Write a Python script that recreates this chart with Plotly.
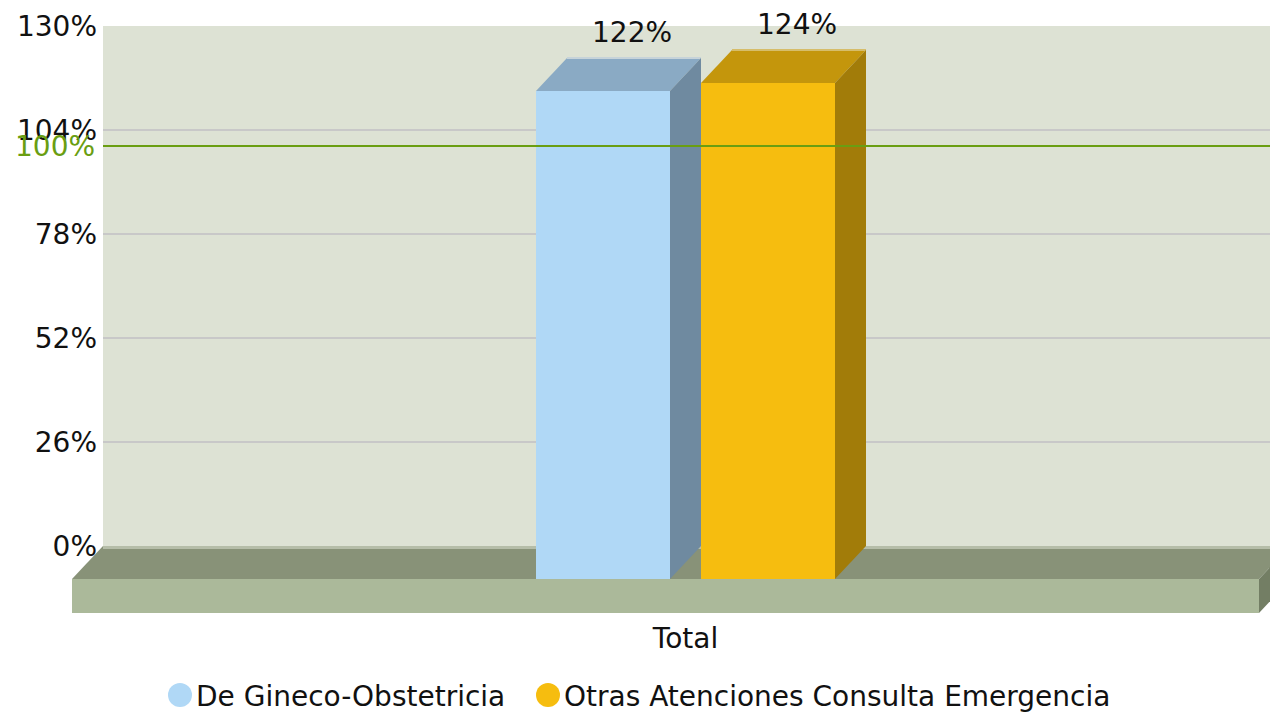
import plotly.graph_objects as go

# ---------------- data ----------------
CATEGORIES = ["Total"]
SERIES_NAMES = ["De Gineco-Obstetricia", "Otras Atenciones Consulta Emergencia"]
SERIES_VALUES = [122, 124]  # percent
Y_TICKS = [0, 26, 52, 78, 104, 130]
TREND_VALUE = 100
TREND_LABEL = "100%"

# ---------------- styles ----------------
FRONT_COLORS = ["#B0D8F6", "#F6BD0F"]
TOP_COLORS = ["#8AAAC4", "#C4960C"]
SIDE_COLORS = ["#6F8AA0", "#A27C09"]
TOP_EDGE_COLORS = ["#C6D3D9", "#D6BD6A"]
WALL_COLOR = "#DDE2D4"
GRID_COLOR = "#C8C8C8"
FLOOR_TOP = "#889278"
FLOOR_FRONT = "#ABB99A"
FLOOR_SIDE = "#737E64"
FLOOR_EDGE = "#B5BDA8"
TREND_COLOR = "#6A9E12"
FONT = "DejaVu Sans"
FONT_SIZE = 28
TEXT_COLOR = "#111111"

PAGE_W, PAGE_H = 1278, 712
OFFSET = 8                 # body margin of the html page
W, H = PAGE_W - OFFSET, PAGE_H - OFFSET
PX_PER_UNIT = 4.0          # vertical pixels per percent
DEPTH_X = 31               # 3D depth offset (x units = page px)
DEPTH_Y = 33 / PX_PER_UNIT # 3D depth offset (percent units)
FLOOR_T = 34 / PX_PER_UNIT
ZERO_PX = 546              # page y of the 0% line on the back wall
WALL_X0 = 103
WALL_X1 = 1290
FLOOR_FRONT_X1 = WALL_X1 - DEPTH_X
GROUP_CENTER = 685.5
BAR_W = 134
BAR_GAP = 31
PLOT_BOTTOM_PX = 614       # page y of plot-area bottom
PLOT_H = PLOT_BOTTOM_PX - OFFSET
Y_MAX = (ZERO_PX - OFFSET) / PX_PER_UNIT
Y_MIN = Y_MAX - PLOT_H / PX_PER_UNIT

LEGEND_MARKER_X = [180, 548]   # page px of legend markers
LEGEND_Y = 696                 # page px of legend row centre
LEGEND_MARKER_D = 24


def paper_x(px):
    return (px - OFFSET) / W


def paper_y(py):
    return (PLOT_BOTTOM_PX - py) / PLOT_H


n = len(SERIES_VALUES)
offsets = [(i - (n - 1) / 2) * (BAR_W + BAR_GAP) for i in range(n)]
centers = [GROUP_CENTER + o for o in offsets]

fig = go.Figure()

# front faces as bars
for i, (name, v) in enumerate(zip(SERIES_NAMES, SERIES_VALUES)):
    fig.add_trace(go.Bar(
        x=[centers[i]], y=[v], base=[-DEPTH_Y], width=[BAR_W],
        marker=dict(color=FRONT_COLORS[i], line=dict(width=0)),
        showlegend=False, hoverinfo="skip", name=name))

# top and side faces
for i, v in enumerate(SERIES_VALUES):
    xl = centers[i] - BAR_W / 2
    xr = centers[i] + BAR_W / 2
    top_y = v - DEPTH_Y
    fig.add_trace(go.Scatter(
        x=[xl, xr, xr + DEPTH_X, xl + DEPTH_X, xl],
        y=[top_y, top_y, v, v, top_y],
        fill="toself", fillcolor=TOP_COLORS[i], mode="lines",
        line=dict(width=0, color=TOP_COLORS[i]),
        showlegend=False, hoverinfo="skip"))
    fig.add_trace(go.Scatter(
        x=[xl + DEPTH_X, xr + DEPTH_X], y=[v, v], mode="lines",
        line=dict(width=2, color=TOP_EDGE_COLORS[i]),
        showlegend=False, hoverinfo="skip"))
    fig.add_trace(go.Scatter(
        x=[xr, xr + DEPTH_X, xr + DEPTH_X, xr, xr],
        y=[top_y, v, 0, -DEPTH_Y, top_y],
        fill="toself", fillcolor=SIDE_COLORS[i], mode="lines",
        line=dict(width=0, color=SIDE_COLORS[i]),
        showlegend=False, hoverinfo="skip"))

shapes = []
# back wall
shapes.append(dict(type="rect", xref="x", yref="y", x0=WALL_X0, x1=WALL_X1,
                   y0=0, y1=Y_TICKS[-1], fillcolor=WALL_COLOR,
                   line=dict(width=0), layer="below"))
# grid lines
for t in Y_TICKS[1:-1]:
    shapes.append(dict(type="line", xref="x", yref="y", x0=WALL_X0, x1=WALL_X1,
                       y0=t, y1=t, line=dict(color=GRID_COLOR, width=2),
                       layer="below"))
# floor top
shapes.append(dict(type="path", xref="x", yref="y", layer="below",
                   path=f"M {WALL_X0 - DEPTH_X},{-DEPTH_Y} L {FLOOR_FRONT_X1},{-DEPTH_Y} "
                        f"L {WALL_X1},0 L {WALL_X0},0 Z",
                   fillcolor=FLOOR_TOP, line=dict(width=0)))
# floor back edge strip
shapes.append(dict(type="line", xref="x", yref="y", x0=WALL_X0, x1=WALL_X1,
                   y0=-0.35, y1=-0.35, line=dict(color=FLOOR_EDGE, width=3),
                   layer="below"))
# floor front
shapes.append(dict(type="rect", xref="x", yref="y", layer="below",
                   x0=WALL_X0 - DEPTH_X, x1=FLOOR_FRONT_X1,
                   y0=-DEPTH_Y - FLOOR_T, y1=-DEPTH_Y,
                   fillcolor=FLOOR_FRONT, line=dict(width=0)))
# floor side
shapes.append(dict(type="path", xref="x", yref="y", layer="below",
                   path=f"M {FLOOR_FRONT_X1},{-DEPTH_Y} L {WALL_X1},0 "
                        f"L {WALL_X1},{-FLOOR_T} L {FLOOR_FRONT_X1},{-DEPTH_Y - FLOOR_T} Z",
                   fillcolor=FLOOR_SIDE, line=dict(width=0)))
# trend line (above bars)
shapes.append(dict(type="line", xref="x", yref="y", x0=WALL_X0, x1=WALL_X1,
                   y0=TREND_VALUE, y1=TREND_VALUE,
                   line=dict(color=TREND_COLOR, width=2), layer="above"))

annotations = []
# value labels above bars
for i, v in enumerate(SERIES_VALUES):
    annotations.append(dict(
        x=centers[i] + DEPTH_X - 2, y=v, xref="x", yref="y",
        text=f"{v}%", showarrow=False, yanchor="middle", yshift=26,
        font=dict(family=FONT, size=FONT_SIZE, color=TEXT_COLOR)))
# trend line label
annotations.append(dict(
    x=WALL_X0 - 6, y=TREND_VALUE, xref="x", yref="y", text=TREND_LABEL,
    showarrow=False, xanchor="right", yanchor="middle",
    font=dict(family=FONT, size=FONT_SIZE, color=TREND_COLOR)))

# legend (circle markers + real text)
r = LEGEND_MARKER_D / 2
for i, name in enumerate(SERIES_NAMES):
    shapes.append(dict(type="circle", xref="paper", yref="paper",
                       xsizemode="pixel", ysizemode="pixel",
                       xanchor=paper_x(LEGEND_MARKER_X[i]),
                       yanchor=paper_y(LEGEND_Y - 1),
                       x0=-r, x1=r, y0=-r, y1=r,
                       fillcolor=FRONT_COLORS[i], line=dict(width=0)))
    annotations.append(dict(
        x=paper_x(LEGEND_MARKER_X[i] + 14), y=paper_y(LEGEND_Y),
        xref="paper", yref="paper", text=name, showarrow=False,
        xanchor="left", yanchor="middle",
        font=dict(family=FONT, size=FONT_SIZE, color=TEXT_COLOR)))

fig.update_layout(
    width=W, height=H,
    margin=dict(l=0, r=0, t=0, b=H - PLOT_H, pad=0),
    paper_bgcolor="white", plot_bgcolor="white",
    shapes=shapes, annotations=annotations,
    barmode="overlay",
    showlegend=False,
    xaxis=dict(range=[OFFSET, PAGE_W], showgrid=False, zeroline=False,
               showline=False,
               tickvals=[GROUP_CENTER], ticktext=CATEGORIES, ticks="",
               ticklabelstandoff=5, automargin=False,
               tickfont=dict(family=FONT, size=FONT_SIZE, color=TEXT_COLOR),
               fixedrange=True),
    yaxis=dict(range=[Y_MIN, Y_MAX], showgrid=False, zeroline=False,
               showline=False, anchor="free",
               position=(WALL_X0 - OFFSET) / W,
               tickvals=Y_TICKS, ticktext=[f"{t}%" for t in Y_TICKS],
               ticks="", ticklabelstandoff=6, automargin=False,
               tickfont=dict(family=FONT, size=FONT_SIZE, color=TEXT_COLOR),
               fixedrange=True),
)

fig.write_html("out.html")
